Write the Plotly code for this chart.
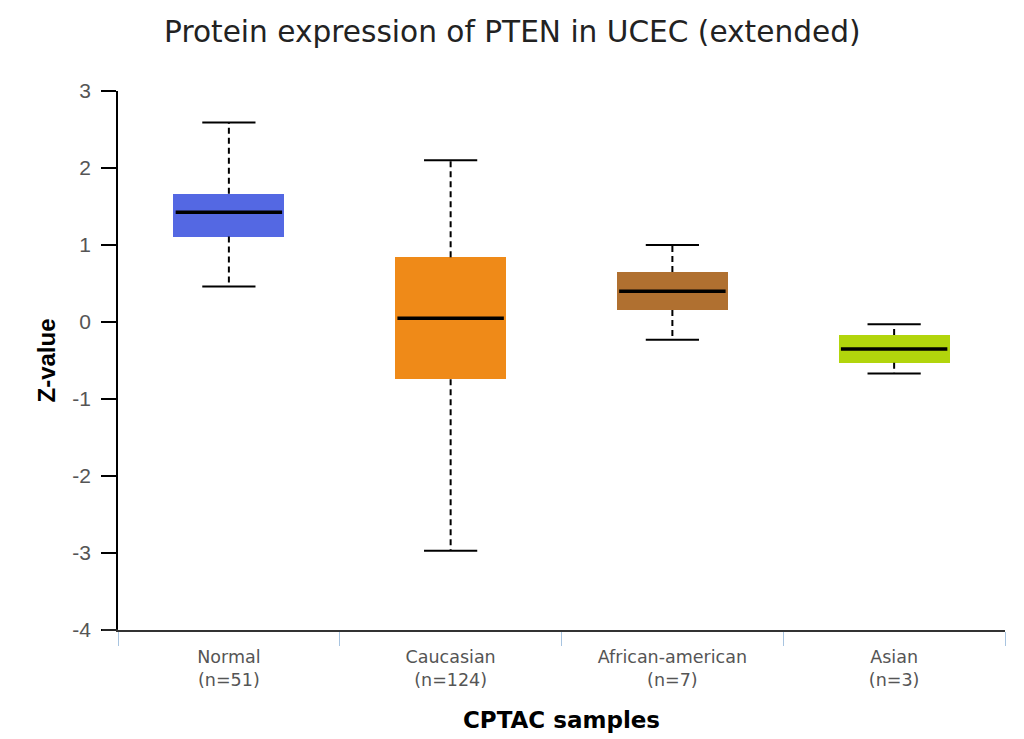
import plotly.graph_objects as go

# box statistics (Z-values)
groups = ["Normal", "Caucasian", "African-american", "Asian"]
counts = [51, 124, 7, 3]
lower = [0.46, -2.97, -0.23, -0.67]
q1 = [1.11, -0.745, 0.155, -0.53]
median = [1.425, 0.05, 0.40, -0.35]
q3 = [1.665, 0.84, 0.65, -0.17]
upper = [2.59, 2.10, 1.00, -0.03]
colors = ["#5468E3", "#EF8A18", "#B07030", "#B2D50C"]
y_ticks = [-4, -3, -2, -1, 0, 1, 2, 3]

xs = list(range(len(groups)))
box_half = 0.25
cap_half = 0.12

fig = go.Figure()

# boxes as floating bars
fig.add_trace(go.Bar(
    x=xs, y=[b - a for a, b in zip(q1, q3)], base=q1,
    width=box_half * 2, marker=dict(color=colors, line=dict(width=0)),
    hoverinfo="skip", showlegend=False,
))

# dashed whiskers
wx, wy = [], []
for i in xs:
    wx += [i, i, None, i, i, None]
    wy += [q3[i], upper[i], None, q1[i], lower[i], None]
fig.add_trace(go.Scatter(x=wx, y=wy, mode="lines",
                         line=dict(color="black", width=2, dash="6px,4px"),
                         hoverinfo="skip", showlegend=False))

# whisker caps
cx, cy = [], []
for i in xs:
    cx += [i - cap_half, i + cap_half, None, i - cap_half, i + cap_half, None]
    cy += [upper[i], upper[i], None, lower[i], lower[i], None]
fig.add_trace(go.Scatter(x=cx, y=cy, mode="lines",
                         line=dict(color="black", width=2),
                         hoverinfo="skip", showlegend=False))

# medians
mx, my = [], []
for i in xs:
    mx += [i - box_half + 0.01, i + box_half - 0.01, None]
    my += [median[i], median[i], None]
fig.add_trace(go.Scatter(x=mx, y=my, mode="lines",
                         line=dict(color="black", width=3.5),
                         hoverinfo="skip", showlegend=False))

fig.update_layout(
    width=1024, height=739,
    margin=dict(l=110, r=27, t=83, b=117),
    paper_bgcolor="white", plot_bgcolor="white",
    title=dict(text="Protein expression of PTEN in UCEC (extended)",
               x=0.4925, xanchor="center", y=0.968, yanchor="middle",
               font=dict(family="DejaVu Sans", size=29.6, color="#222222")),
    xaxis=dict(
        range=[-0.5, 3.5], tickvals=xs,
        ticktext=[f"{g}<br>(n={n})" for g, n in zip(groups, counts)],
        ticks="outside", ticklen=10, tickcolor="rgba(0,0,0,0)",
        tickfont=dict(family="DejaVu Sans", size=17.5, color="#555555"),
        showline=True, linecolor="#333333", linewidth=1.5,
        showgrid=False, zeroline=False,
        minor=dict(ticks="outside", tick0=0.5, dtick=1, ticklen=14,
                   tickcolor="#a8c4e0", tickwidth=1, showgrid=False),
        title=dict(text="<b>CPTAC samples</b>", standoff=23,
                   font=dict(family="DejaVu Sans", size=23, color="black")),
        fixedrange=True,
    ),
    yaxis=dict(
        range=[-4, 3], tickvals=y_ticks, ticktext=[str(v) for v in y_ticks],
        ticks="outside", ticklen=15, tickcolor="black", tickwidth=1.5,
        ticklabelstandoff=6,
        tickfont=dict(family="Liberation Sans", size=21, color="#555555"),
        showline=True, linecolor="black", linewidth=1.5,
        showgrid=False, zeroline=False,
        title=dict(text="<b>Z-value</b>", standoff=10,
                   font=dict(family="Liberation Sans", size=24, color="black")),
        fixedrange=True,
    ),
    bargap=0,
)

# axis line overhang to the left of the y axis
fig.add_shape(type="line", xref="paper", yref="paper",
              x0=-0.018, x1=0, y0=0, y1=0,
              line=dict(color="#333333", width=1.5))

fig.write_html("out.html")
